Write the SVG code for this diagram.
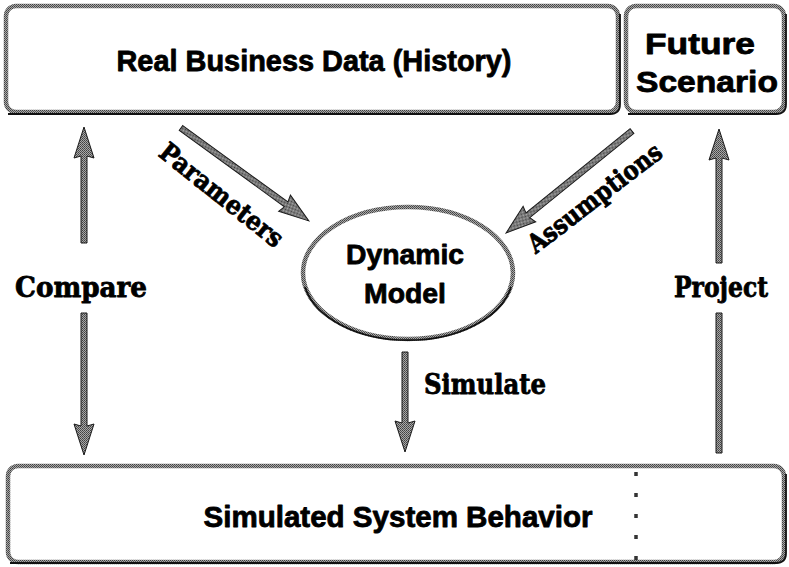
<svg xmlns="http://www.w3.org/2000/svg" width="789" height="567" viewBox="0 0 789 567">
<defs>
<pattern id="dith" width="2" height="2" patternUnits="userSpaceOnUse">
<rect width="2" height="2" fill="#a8a8a8"/>
<rect width="1" height="1" fill="#404040"/>
<rect x="1" y="1" width="1" height="1" fill="#555"/>
</pattern>
</defs>
<style>
.box{fill:#fff;stroke:url(#dith);stroke-width:4.5}
.shadow{fill:none;stroke:#111;stroke-width:1.8}
.arr{fill:url(#dith);stroke:#1a1a1a;stroke-width:1}
.t1{font-family:"Liberation Sans",Arial,sans-serif;font-weight:bold;fill:#000;stroke:#000;stroke-width:0.8;stroke-linejoin:round}
.t2{font-family:"DejaVu Serif","Liberation Serif",serif;font-weight:bold;fill:#000;stroke:#000;stroke-width:0.8;stroke-linejoin:round}
</style>
<rect width="789" height="567" fill="#fff"/>

<g id="real-business-data">
<rect class="box" x="6" y="6" width="612" height="106" rx="10"/>
<path class="shadow" d="M8,114 H610 Q620,114 620,104 V14"/>
<text class="t1" x="314" y="71" font-size="29" text-anchor="middle" textLength="395" lengthAdjust="spacingAndGlyphs">Real Business Data (History)</text>
</g>

<g id="future-scenario">
<rect class="box" x="626" y="6" width="158" height="106" rx="10"/>
<path class="shadow" d="M628,114 H776 Q786,114 786,104 V14"/>
<text class="t1" x="700" y="54" font-size="30" text-anchor="middle" textLength="110" lengthAdjust="spacingAndGlyphs">Future</text>
<text class="t1" x="707" y="92" font-size="30" text-anchor="middle" textLength="142" lengthAdjust="spacingAndGlyphs">Scenario</text>
</g>

<g id="dynamic-model">
<ellipse cx="408" cy="273" rx="105" ry="66" fill="#fff" stroke="url(#dith)" stroke-width="4.5"/>
<path class="shadow" d="M305,287 A105,66 0 0 0 511,287"/>
<text class="t1" x="405" y="264" font-size="28" text-anchor="middle" textLength="118" lengthAdjust="spacingAndGlyphs">Dynamic</text>
<text class="t1" x="405" y="303" font-size="28" text-anchor="middle" textLength="82" lengthAdjust="spacingAndGlyphs">Model</text>
</g>

<g id="simulated-system-behavior">
<rect class="box" x="8" y="466" width="776" height="96" rx="10"/>
<path class="shadow" d="M10,563 H776 Q786,563 786,553 V474"/>
<line x1="636" y1="472" x2="636" y2="562" stroke="#333" stroke-width="3.5" stroke-dasharray="4,17"/>
<text class="t1" x="398" y="527" font-size="29" text-anchor="middle" textLength="389" lengthAdjust="spacingAndGlyphs">Simulated System Behavior</text>
</g>

<g id="connectors">
<path class="arr" d="M84,127 L94,158 L87,156 L87,243 L81,243 L81,156 L74,158 Z"/>
<path class="arr" d="M84,455 L94,424 L87,426 L87,313 L81,313 L81,426 L74,424 Z"/>
<path class="arr" d="M719,129 L729,160 L722,158 L722,263 L716,263 L716,158 L709,160 Z"/>
<path class="arr" d="M716,313 L722,313 L722,453 L716,453 Z"/>
<path class="arr" d="M405,452 L415,421 L408,423 L408,352 L402,352 L402,423 L395,421 Z"/>
<path class="arr" transform="translate(181,128) rotate(36)" d="M0,-3 L130,-3 L128,-10 L158,0 L128,10 L130,3 L0,3 Z"/>
<path class="arr" transform="translate(632,131) rotate(141)" d="M0,-3 L134,-3 L132,-10 L162,0 L132,10 L134,3 L0,3 Z"/>
<text class="t2" x="81" y="297" font-size="27" text-anchor="middle" textLength="132" lengthAdjust="spacingAndGlyphs">Compare</text>
<text class="t2" x="721" y="297" font-size="27" text-anchor="middle" textLength="94" lengthAdjust="spacingAndGlyphs">Project</text>
<text class="t2" x="485" y="394" font-size="27" text-anchor="middle" textLength="122" lengthAdjust="spacingAndGlyphs">Simulate</text>
<text class="t2" transform="translate(216,202) rotate(38.5)" font-size="26" text-anchor="middle" textLength="150" lengthAdjust="spacingAndGlyphs">Parameters</text>
<text class="t2" transform="translate(600,205) rotate(-37.5)" font-size="26" text-anchor="middle" textLength="162" lengthAdjust="spacingAndGlyphs">Assumptions</text>
</g>
</svg>
